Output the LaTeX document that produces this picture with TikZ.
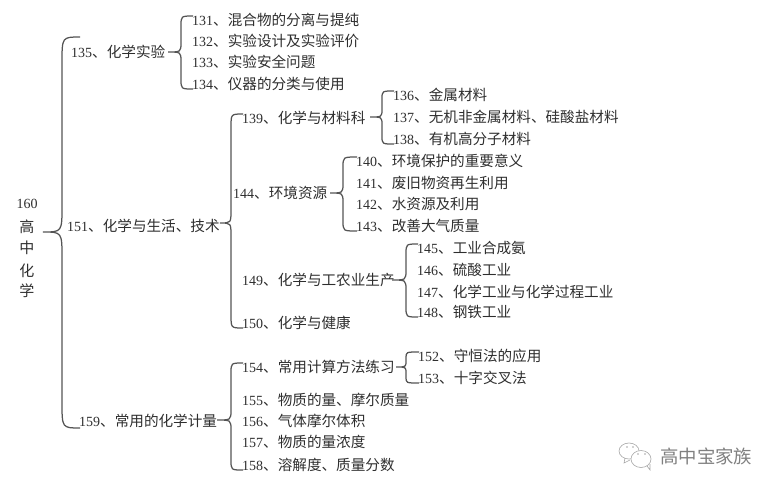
\documentclass[tikz,border=0pt]{standalone}
\usepackage{fontspec}
\setmainfont{Liberation Serif}
\newfontfamily\cjk{Noto Sans CJK SC}
\usetikzlibrary{calc}
\definecolor{inkgray}{rgb}{0.180000,0.180000,0.180000}
\definecolor{branchgray}{rgb}{0.330000,0.330000,0.330000}
\definecolor{markgray}{rgb}{0.500000,0.500000,0.500000}
\definecolor{bubblegray}{rgb}{0.650000,0.650000,0.650000}
\tikzset{
  entry/.style={anchor=west,inner sep=0pt,text=inkgray,font=\fontsize{14}{16}\selectfont},
  rootchar/.style={anchor=center,inner sep=0pt,text=inkgray,font=\cjk\fontsize{15}{16}\selectfont},
  branchline/.style={draw=branchgray,line width=1.25pt},
  marktext/.style={anchor=west,inner sep=0pt,text=markgray,font=\cjk\fontsize{18.4}{20}\selectfont},
  bubble/.style={draw=bubblegray,line width=0.6pt},
}
% tip, spine, first child, last child, radius
\newcommand{\branch}[5]{%
  \coordinate (sx) at (#2,0);
  \coordinate (ea) at ($(#3.west)+(1,-4)$);
  \coordinate (eb) at ($(#4.west)+(1,5)$);
  \draw [branchline] (ea) .. controls (sx |- ea) .. ($(sx |- ea)+(0,#5)$)
    -- ($(sx |- #1)+(0,-#5)$) .. controls (sx |- #1) .. (#1)
    .. controls (sx |- #1) .. ($(sx |- #1)+(0,#5)$)
    -- ($(sx |- eb)+(0,-#5)$) .. controls (sx |- eb) .. (eb);%
}
\newcommand{\entrytext}[2]{#1{\cjk\fontsize{14.6}{16}\selectfont 、#2}}
\begin{document}
\begin{tikzpicture}[x=1pt,y=-1pt]
\useasboundingbox (0,0) rectangle (778,488);

% Drawing root
\node [entry,anchor=center] (n160) at (27,204) {160};
\node [rootchar] (gao) at (27,227) {高};
\node [rootchar] (zhong) at (27,248) {中};
\node [rootchar] (hua) at (27,271) {化};
\node [rootchar] (xue) at (27,291) {学};

% Drawing first level
\node [entry] (n135) at (71,52) {\entrytext{135}{化学实验}};
\node [entry] (n151) at (67,226) {\entrytext{151}{化学与生活、技术}};
\node [entry] (n159) at (79,421) {\entrytext{159}{常用的化学计量}};

% Drawing second level
\node [entry] (n131) at (192,20) {\entrytext{131}{混合物的分离与提纯}};
\node [entry] (n132) at (192,41) {\entrytext{132}{实验设计及实验评价}};
\node [entry] (n133) at (192,62) {\entrytext{133}{实验安全问题}};
\node [entry] (n134) at (192,84) {\entrytext{134}{仪器的分类与使用}};
\node [entry] (n139) at (242,118) {\entrytext{139}{化学与材料科}};
\node [entry] (n144) at (233,193) {\entrytext{144}{环境资源}};
\node [entry] (n149) at (242,280) {\entrytext{149}{化学与工农业生产}};
\node [entry] (n150) at (242,323) {\entrytext{150}{化学与健康}};
\node [entry] (n154) at (242,367) {\entrytext{154}{常用计算方法练习}};
\node [entry] (n155) at (242,400) {\entrytext{155}{物质的量、摩尔质量}};
\node [entry] (n156) at (242,421) {\entrytext{156}{气体摩尔体积}};
\node [entry] (n157) at (242,442) {\entrytext{157}{物质的量浓度}};
\node [entry] (n158) at (242,465) {\entrytext{158}{溶解度、质量分数}};

% Drawing third level
\node [entry] (n136) at (393,95) {\entrytext{136}{金属材料}};
\node [entry] (n137) at (393,117) {\entrytext{137}{无机非金属材料、硅酸盐材料}};
\node [entry] (n138) at (393,139) {\entrytext{138}{有机高分子材料}};
\node [entry] (n140) at (356,161) {\entrytext{140}{环境保护的重要意义}};
\node [entry] (n141) at (356,183) {\entrytext{141}{废旧物资再生利用}};
\node [entry] (n142) at (356,204) {\entrytext{142}{水资源及利用}};
\node [entry] (n143) at (356,226) {\entrytext{143}{改善大气质量}};
\node [entry] (n145) at (417,248) {\entrytext{145}{工业合成氨}};
\node [entry] (n146) at (417,270) {\entrytext{146}{硫酸工业}};
\node [entry] (n147) at (417,292) {\entrytext{147}{化学工业与化学过程工业}};
\node [entry] (n148) at (417,312) {\entrytext{148}{钢铁工业}};
\node [entry] (n152) at (418,356) {\entrytext{152}{守恒法的应用}};
\node [entry] (n153) at (418,378) {\entrytext{153}{十字交叉法}};

% Drawing branches
\coordinate (t160) at (43,232);
\coordinate (t135) at (168,52);
\coordinate (t151) at (220,223);
\coordinate (t159) at (217,420);
\coordinate (t139) at (370,117);
\coordinate (t144) at (330,193);
\coordinate (t149) at (392,280);
\coordinate (t154) at (396,367);
\coordinate (e135) at (79,41);
\coordinate (e159) at (79,423);
\branch{t160}{62}{e135}{e159}{26}
\branch{t135}{181}{n131}{n134}{10}
\branch{t151}{231}{n139}{n150}{13}
\branch{t159}{231}{n154}{n158}{10}
\branch{t139}{382}{n136}{n138}{8}
\branch{t144}{343}{n140}{n143}{10}
\branch{t149}{406}{n145}{n148}{10}
\branch{t154}{406}{n152}{n153}{6}

% Drawing mark
\draw [bubble] (629,451) ellipse [x radius=10,y radius=8];
\draw [bubble] (625,458) -- (624,463) -- (630,460);
\draw [bubble,fill=white] (641,459) ellipse [x radius=10,y radius=8.5];
\draw [bubble] (647,466) -- (650,470) -- (650,464);
\fill [bubblegray] (627,447) circle [radius=0.9] (633,447) circle [radius=0.9]
  (638,454) circle [radius=0.9] (645,454) circle [radius=0.9];
\node [marktext] (mark) at (660,456) {高中宝家族};
\end{tikzpicture}
\end{document}
